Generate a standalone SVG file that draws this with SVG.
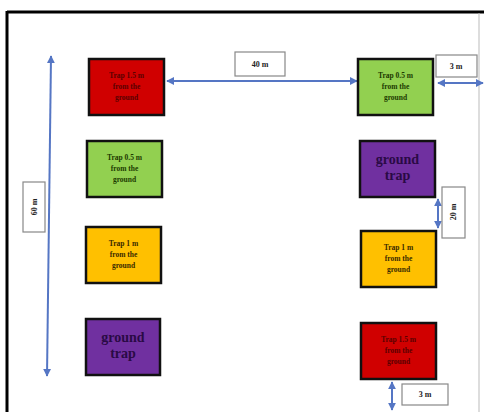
<svg xmlns="http://www.w3.org/2000/svg" width="484" height="412" viewBox="0 0 484 412">
<defs>
<style>
.box{stroke:#111;stroke-width:2.5}
.red{fill:#d00000}
.green{fill:#92d050}
.yellow{fill:#ffc000}
.purple{fill:#7030a0}
.t{font-family:"Liberation Serif","Times New Roman",serif;font-weight:bold;font-size:7.5px;text-anchor:middle}
.big{font-family:"Liberation Serif","Times New Roman",serif;font-weight:bold;font-size:14px;text-anchor:middle;fill:#2a0a45}
.lbl{fill:#fff;stroke:#888;stroke-width:1.2}
.lt{font-family:"Liberation Serif","Times New Roman",serif;font-weight:bold;font-size:8px;text-anchor:middle;fill:#222}
.arr{stroke:#5576c4;stroke-width:2;fill:none;marker-start:url(#ah);marker-end:url(#ah)}
</style>
<marker id="ah" viewBox="0 0 10 10" refX="9" refY="5" markerWidth="4" markerHeight="4" orient="auto-start-reverse">
<path d="M0,0 L10,5 L0,10 z" fill="#5576c4"/>
</marker>
</defs>
<rect x="0" y="0" width="484" height="412" fill="#fff"/>
<g id="frame">
<line x1="7" y1="12" x2="484" y2="12" stroke="#000" stroke-width="3"/>
<line x1="7" y1="11" x2="7" y2="412" stroke="#000" stroke-width="3"/>
<line x1="479" y1="13" x2="479" y2="412" stroke="#bbb" stroke-width="1"/>
</g>
<g id="connectors">
<line class="arr" x1="51" y1="56" x2="47" y2="376"/>
<line class="arr" x1="167" y1="81" x2="357" y2="81"/>
<line class="arr" x1="438" y1="83" x2="483" y2="83"/>
<line class="arr" x1="438" y1="199" x2="438" y2="228"/>
<line class="arr" x1="392" y1="382" x2="392" y2="410"/>
</g>
<g id="label-60m">
<rect class="lbl" x="23" y="182" width="22" height="50"/>
<text class="lt" transform="translate(37,207) rotate(-90)">60 m</text>
</g>
<g id="label-40m">
<rect class="lbl" x="235" y="52" width="50" height="24"/>
<text class="lt" x="260" y="67">40 m</text>
</g>
<g id="label-3m-top">
<rect class="lbl" x="436" y="55" width="41" height="22"/>
<text class="lt" x="456" y="69">3 m</text>
</g>
<g id="label-20m">
<rect class="lbl" x="442" y="187" width="23" height="51"/>
<text class="lt" transform="translate(456,212) rotate(-90)">20 m</text>
</g>
<g id="label-3m-bottom">
<rect class="lbl" x="402" y="384" width="46" height="21"/>
<text class="lt" x="425" y="397">3 m</text>
</g>
<g id="left-red">
<rect class="box red" x="89" y="59" width="75" height="56"/>
<text class="t" fill="#5a0000"><tspan x="126.5" y="78">Trap 1.5 m</tspan><tspan x="126.5" y="89">from the</tspan><tspan x="126.5" y="100">ground</tspan></text>
</g>
<g id="left-green">
<rect class="box green" x="87" y="141" width="75" height="56"/>
<text class="t" fill="#1d3a00"><tspan x="124.5" y="160">Trap 0.5 m</tspan><tspan x="124.5" y="171">from the</tspan><tspan x="124.5" y="182">ground</tspan></text>
</g>
<g id="left-yellow">
<rect class="box yellow" x="86" y="227" width="75" height="56"/>
<text class="t" fill="#3a2a00"><tspan x="123.5" y="246">Trap 1 m</tspan><tspan x="123.5" y="257">from the</tspan><tspan x="123.5" y="268">ground</tspan></text>
</g>
<g id="left-purple">
<rect class="box purple" x="86" y="319" width="74" height="56"/>
<text class="big"><tspan x="123" y="342">ground</tspan><tspan x="123" y="358">trap</tspan></text>
</g>
<g id="right-green">
<rect class="box green" x="358" y="59" width="75" height="56"/>
<text class="t" fill="#1d3a00"><tspan x="395.5" y="78">Trap 0.5 m</tspan><tspan x="395.5" y="89">from the</tspan><tspan x="395.5" y="100">ground</tspan></text>
</g>
<g id="right-purple">
<rect class="box purple" x="360" y="141" width="75" height="56"/>
<text class="big"><tspan x="397.5" y="164">ground</tspan><tspan x="397.5" y="180">trap</tspan></text>
</g>
<g id="right-yellow">
<rect class="box yellow" x="361" y="231" width="75" height="56"/>
<text class="t" fill="#3a2a00"><tspan x="398.5" y="250">Trap 1 m</tspan><tspan x="398.5" y="261">from the</tspan><tspan x="398.5" y="272">ground</tspan></text>
</g>
<g id="right-red">
<rect class="box red" x="361" y="323" width="75" height="56"/>
<text class="t" fill="#5a0000"><tspan x="398.5" y="342">Trap 1.5 m</tspan><tspan x="398.5" y="353">from the</tspan><tspan x="398.5" y="364">ground</tspan></text>
</g>
</svg>
